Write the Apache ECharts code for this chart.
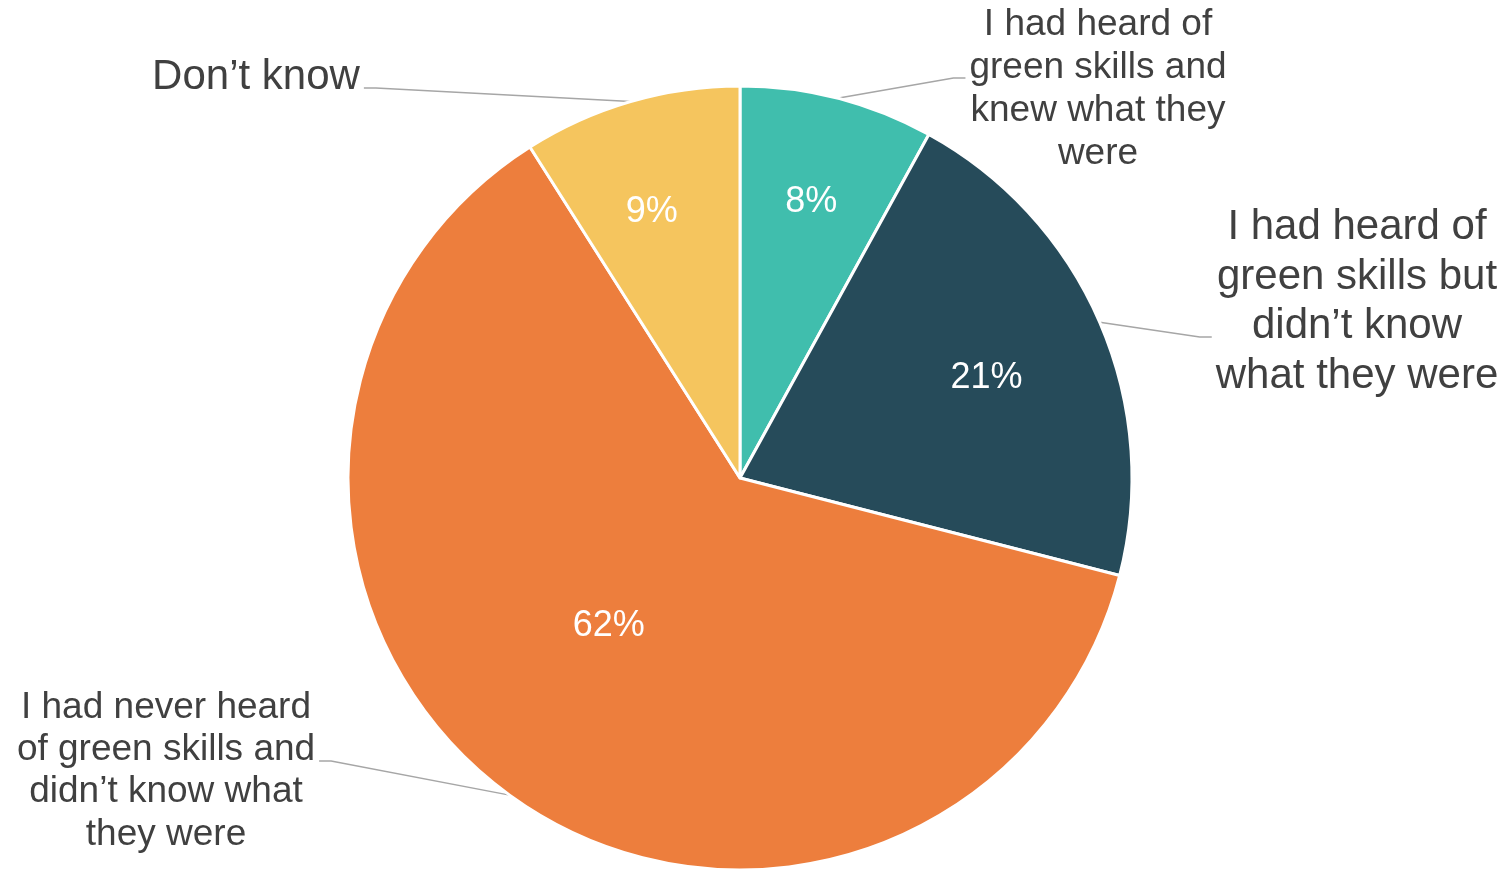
<!DOCTYPE html>
<html>
<head>
<meta charset="utf-8">
<script src="https://cdn.jsdelivr.net/npm/echarts@6/dist/echarts.min.js"></script>
<style>
  html, body { margin: 0; padding: 0; background: #ffffff; }
  #chart { width: 1511px; height: 869px; }
</style>
</head>
<body>
<div id="chart"></div>
<script>
// Survey answers: awareness of green skills (shares in %)
const categories = [
  'I had heard of\ngreen skills and\nknew what they\nwere',
  'I had heard of\ngreen skills but\ndidn’t know\nwhat they were',
  'I had never heard\nof green skills and\ndidn’t know what\nthey were',
  'Don’t know'
];
const shares = [8, 21, 62, 9];
const colors = ['#40BEAD', '#264B5A', '#ED7E3D', '#F5C55E'];

const FONT = '"Liberation Sans", Arial, sans-serif';
const TEXT = '#404040';
const CENTER = [740, 478];
const RADIUS = 392;

// callout text blocks: centre point, font size, line height, leader attach offset
const calloutPos = [[1098, 89], [1357, 302], [166, 771], [256, 77]];
const calloutSize = [37, 42, 37, 42];
const calloutLineH = [43, 49.5, 42.3, 49];
const calloutDy = [-11, 35, -10, 11];
// percentage labels: distance from centre as a fraction of the radius, angle nudge (deg)
const pctRadius = [0.732, 0.68, 0.5, 0.72];
const pctTurn = [0, 1, 6, -2];

const total = shares.reduce((a, b) => a + b, 0);
const MID = (() => {
  let acc = 0;
  return shares.map(v => { const a = (acc + v / 2) / total * 360; acc += v; return a; });
})();
function polar(angleDeg, r) {
  const t = angleDeg * Math.PI / 180;
  return [CENTER[0] + r * Math.sin(t), CENTER[1] - r * Math.cos(t)];
}

const chart = echarts.init(document.getElementById('chart'), null, { renderer: 'canvas' });

chart.setOption({
  backgroundColor: '#ffffff',
  animation: false,
  series: [
    {
      // slices with the percentage inside
      type: 'pie',
      center: CENTER,
      radius: RADIUS,
      startAngle: 90,
      clockwise: true,
      avoidLabelOverlap: false,
      silent: true,
      emphasis: { disabled: true },
      itemStyle: { borderColor: '#ffffff', borderWidth: 3 },
      label: {
        show: true,
        position: 'inside',
        formatter: '{c}%',
        color: '#ffffff',
        fontSize: 36,
        fontFamily: FONT
      },
      labelLine: { show: false },
      labelLayout: p => {
        const i = p.dataIndex;
        const pt = polar(MID[i] + pctTurn[i], pctRadius[i] * RADIUS);
        return { x: pt[0], y: pt[1] + 2, align: 'center', verticalAlign: 'middle' };
      },
      data: shares.map((v, i) => ({ value: v, name: categories[i], itemStyle: { color: colors[i] } }))
    },
    {
      // transparent overlay carrying the category callouts and leader lines
      type: 'pie',
      center: CENTER,
      radius: RADIUS,
      startAngle: 90,
      clockwise: true,
      avoidLabelOverlap: false,
      silent: true,
      emphasis: { disabled: true },
      itemStyle: { color: 'rgba(0,0,0,0)', borderWidth: 0 },
      label: {
        show: true,
        position: 'outside',
        formatter: '{b}',
        color: TEXT,
        fontFamily: FONT,
        align: 'center'
      },
      labelLine: { show: true, smooth: false, lineStyle: { color: '#A6A6A6', width: 1.5 } },
      labelLayout: p => {
        const i = p.dataIndex;
        const [lx, ly] = calloutPos[i];
        const w = p.labelRect.width;
        const right = lx > CENTER[0];
        const edge = right ? lx - w / 2 - 4 : lx + w / 2 + 4;
        const yA = ly + calloutDy[i];
        const elbow = [right ? edge - 12 : edge + 12, yA];
        return {
          x: lx, y: ly, align: 'center', verticalAlign: 'middle',
          labelLinePoints: [polar(MID[i], RADIUS), elbow, [edge, yA]]
        };
      },
      data: shares.map((v, i) => ({
        value: v,
        name: categories[i],
        label: { fontSize: calloutSize[i], lineHeight: calloutLineH[i] }
      }))
    }
  ]
});
</script>
</body>
</html>
